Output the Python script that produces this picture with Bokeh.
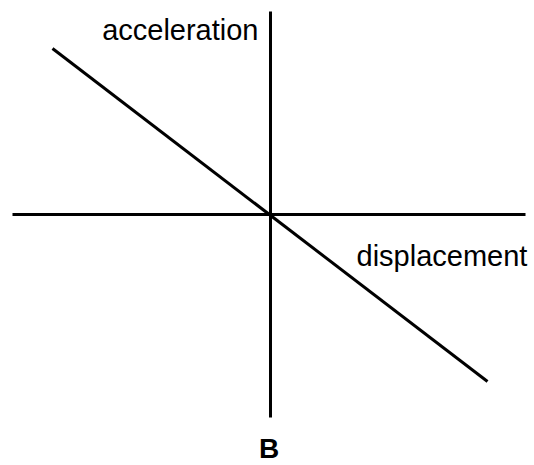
from bokeh.plotting import figure
from bokeh.models import Range1d, ColumnDataSource
from bokeh.core.properties import value
from bokeh.embed import file_html
from bokeh.resources import INLINE

# data (arbitrary units, origin at the axes crossing)
displacement = [-2.18, 2.17]
acceleration = [1.66, -1.67]
h_axis_x = [-2.58, 2.55]
h_axis_y = [0.0, 0.0]
v_axis_x = [0.0, 0.0]
v_axis_y = [2.03, -2.03]

labels_text = ["acceleration", "displacement"]
labels_x = [-0.12, 0.86]
labels_y = [1.85, -0.41]
labels_align = ["right", "left"]
caption = ["B"]
caption_x = [-0.015]
caption_y = [-2.34]

p = figure(width=534, height=465, output_backend="svg", toolbar_location=None,
           x_range=Range1d(-2.70, 2.64), y_range=Range1d(-2.51, 2.14),
           min_border=0, outline_line_color=None)
p.axis.visible = False
p.grid.visible = False

p.line(h_axis_x, h_axis_y, line_color="black", line_width=3)
p.line(v_axis_x, v_axis_y, line_color="black", line_width=3)
p.line(displacement, acceleration, line_color="black", line_width=3)

src = ColumnDataSource(dict(x=labels_x, y=labels_y, t=labels_text, a=labels_align))
p.text(x="x", y="y", text="t", text_align="a", source=src,
       text_font=value("Liberation Sans"), text_font_size="29px",
       text_baseline="alphabetic", text_color="black")

p.text(x=caption_x, y=caption_y, text=caption, text_align="center",
       text_font=value("Liberation Sans"), text_font_size="28px",
       text_font_style="bold", text_baseline="alphabetic", text_color="black")

open("out.html", "w").write(file_html(p, INLINE))
